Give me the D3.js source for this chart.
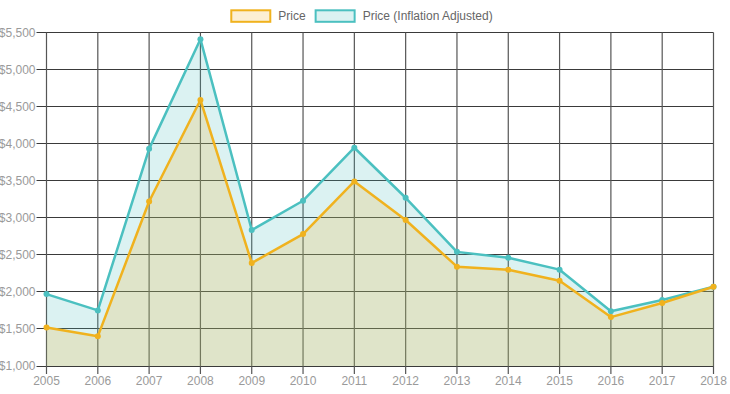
<!DOCTYPE html>
<html>
<head>
<meta charset="utf-8">
<script src="https://cdn.jsdelivr.net/npm/d3@7"></script>
<style>
  body { margin: 0; background: #fff; }
  svg { display: block; font-family: "Liberation Sans", Arial, Helvetica, sans-serif; }
</style>
</head>
<body>
<div id="chart"></div>
<script>
const years = ['2005', '2006', '2007', '2008', '2009', '2010', '2011', '2012', '2013', '2014', '2015', '2016', '2017', '2018'];
const price = [1520, 1400, 3220, 4590, 2390, 2780, 3490, 2970, 2340, 2300, 2150, 1660, 1850, 2070];
const priceAdjusted = [1970, 1750, 3930, 5410, 2835, 3230, 3945, 3270, 2540, 2460, 2300, 1740, 1890, 2070];
const yTicks = [1000, 1500, 2000, 2500, 3000, 3500, 4000, 4500, 5000, 5500];
const seriesNames = ['Price', 'Price (Inflation Adjusted)'];

const width = 730;
const height = 394;
const margin = { top: 32.5, right: 16.5, bottom: 28, left: 46.5 };

const series = [
  { name: seriesNames[0], values: price, line: 'rgb(240,178,30)', fill: 'rgba(240,175,40,0.2)' },
  { name: seriesNames[1], values: priceAdjusted, line: 'rgb(75,192,192)', fill: 'rgba(75,192,192,0.2)' }
];

const svg = d3.select('#chart')
  .append('svg')
  .attr('width', width)
  .attr('height', height);

const x = d3.scalePoint()
  .domain(years)
  .range([margin.left, width - margin.right]);

const y = d3.scaleLinear()
  .domain([1000, 5500])
  .range([height - margin.bottom, margin.top]);

const crisp = v => Math.round(v - 0.5) + 0.5;
const fmt = d3.format('$,');

// grid
const grid = svg.append('g').attr('class', 'grid');
grid.selectAll('.h-line')
  .data(yTicks)
  .enter().append('line')
  .attr('x1', margin.left - 10)
  .attr('x2', width - margin.right)
  .attr('y1', d => crisp(y(d)))
  .attr('y2', d => crisp(y(d)))
  .attr('stroke', '#3a3a3a')
  .attr('stroke-width', 1);

grid.selectAll('.v-line')
  .data(years)
  .enter().append('line')
  .attr('x1', d => x(d))
  .attr('x2', d => x(d))
  .attr('y1', margin.top)
  .attr('y2', height - margin.bottom + 8)
  .attr('stroke', '#555')
  .attr('stroke-width', 1.2);

// y labels
svg.append('g')
  .selectAll('text')
  .data(yTicks)
  .enter().append('text')
  .attr('x', margin.left - 11)
  .attr('y', d => y(d) + 4)
  .attr('text-anchor', 'end')
  .attr('font-size', 12)
  .attr('fill', '#9a9a9a')
  .text(d => fmt(d));

// x labels
svg.append('g')
  .selectAll('text')
  .data(years)
  .enter().append('text')
  .attr('x', d => x(d))
  .attr('y', height - margin.bottom + 18.5)
  .attr('text-anchor', 'middle')
  .attr('font-size', 12)
  .attr('fill', '#9a9a9a')
  .text(d => d);

const area = d3.area()
  .x((d, i) => x(years[i]))
  .y0(y(1000))
  .y1(d => y(d));

const line = d3.line()
  .x((d, i) => x(years[i]))
  .y(d => y(d));

// first dataset is drawn on top, so draw in reverse
const plot = svg.append('g');
series.slice().reverse().forEach(s => {
  plot.append('path')
    .datum(s.values)
    .attr('d', area)
    .attr('fill', s.fill);
  plot.append('path')
    .datum(s.values)
    .attr('d', line)
    .attr('fill', 'none')
    .attr('stroke', s.line)
    .attr('stroke-width', 2.5)
    .attr('stroke-linejoin', 'round');
  plot.selectAll(null)
    .data(s.values)
    .enter().append('circle')
    .attr('cx', (d, i) => x(years[i]))
    .attr('cy', d => y(d))
    .attr('r', 3)
    .attr('fill', s.line);
});

// legend
const legend = svg.append('g');
const items = legend.selectAll('g')
  .data(series)
  .enter().append('g');
items.append('rect')
  .attr('width', 39)
  .attr('height', 11.5)
  .attr('y', 10.3)
  .attr('fill', d => d.fill)
  .attr('stroke', d => d.line)
  .attr('stroke-width', 2);
items.append('text')
  .attr('x', 47)
  .attr('y', 20)
  .attr('font-size', 12)
  .attr('fill', '#666')
  .text(d => d.name);

let offset = 0;
const widths = [];
items.each(function () {
  const w = 47 + d3.select(this).select('text').node().getComputedTextLength();
  widths.push(w);
});
const total = d3.sum(widths) + 10 * (widths.length - 1);
let start = width / 2 - total / 2 - 3;
items.attr('transform', (d, i) => {
  const tx = start + offset;
  offset += widths[i] + 10;
  return `translate(${tx},0)`;
});
</script>
</body>
</html>
